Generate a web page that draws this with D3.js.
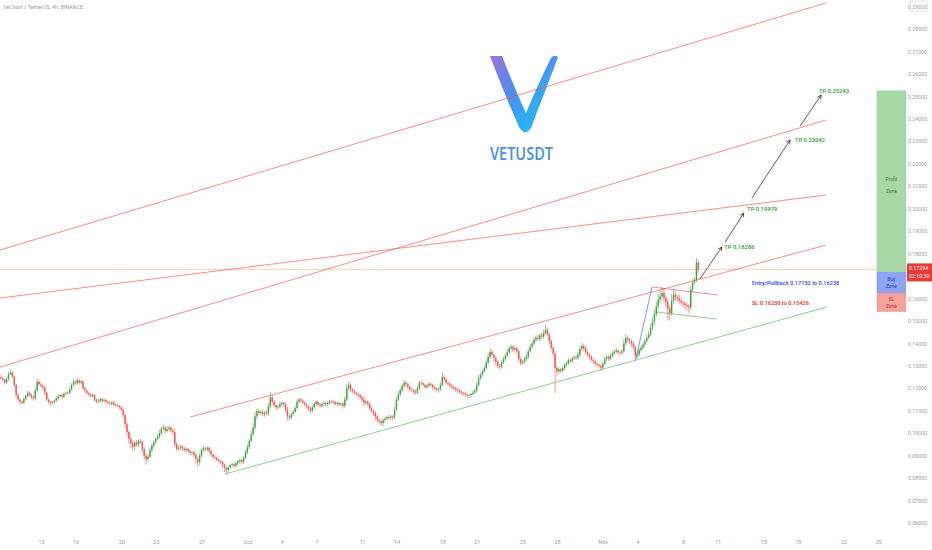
<!DOCTYPE html>
<html><head><meta charset="utf-8">
<script src="https://cdn.jsdelivr.net/npm/d3@7"></script>
<style>html,body{margin:0;padding:0;background:#fff;}svg{display:block;font-family:Roboto,"DejaVu Sans",sans-serif;}</style>
</head><body><svg id="c" width="932" height="550"></svg>
<script>
const title = "VeChain / TetherUS, 4h, BINANCE";
const startTime = "2021-09-09T12:00:00Z"; // first 4h candle
const stepHours = 4;
const firstOpen = 0.1250;
const closes = [
0.1245,0.1238,0.1225,0.1240,0.1262,0.1270,0.1252,0.1215,0.1170,0.1150,0.1140,0.1135,0.1152,0.1165,0.1180,0.1172,0.1160,0.1155,0.1190,0.1228,
0.1218,0.1210,0.1203,0.1180,0.1150,0.1140,0.1134,0.1138,0.1145,0.1155,0.1165,0.1170,0.1162,0.1175,0.1180,0.1178,0.1195,0.1215,0.1228,0.1222,
0.1235,0.1225,0.1230,0.1200,0.1190,0.1178,0.1172,0.1165,0.1170,0.1150,0.1140,0.1143,0.1152,0.1145,0.1148,0.1140,0.1135,0.1132,0.1138,0.1128,
0.1125,0.1122,0.1115,0.1105,0.1080,0.1040,0.1005,0.0975,0.0955,0.0940,0.0958,0.0950,0.0965,0.0960,0.0930,0.0900,0.0885,0.0895,0.0925,0.0945,
0.0960,0.0975,0.0985,0.1000,0.1020,0.1025,0.1010,0.1018,0.1025,0.1012,0.1005,0.0950,0.0930,0.0935,0.0940,0.0932,0.0925,0.0930,0.0920,0.0912,
0.0915,0.0905,0.0885,0.0870,0.0900,0.0925,0.0932,0.0928,0.0935,0.0920,0.0905,0.0895,0.0890,0.0882,0.0876,0.0872,0.0860,0.0845,0.0836,0.0848,
0.0858,0.0862,0.0855,0.0866,0.0875,0.0880,0.0872,0.0890,0.0915,0.0938,0.0965,0.0995,0.1025,0.1075,0.1098,0.1090,0.1095,0.1085,0.1092,0.1088,
0.1120,0.1160,0.1140,0.1125,0.1115,0.1118,0.1130,0.1135,0.1128,0.1105,0.1075,0.1070,0.1085,0.1095,0.1112,0.1140,0.1150,0.1145,0.1135,0.1128,
0.1118,0.1110,0.1100,0.1115,0.1130,0.1140,0.1128,0.1122,0.1130,0.1135,0.1128,0.1135,0.1142,0.1140,0.1138,0.1130,0.1135,0.1128,0.1132,0.1122,
0.1150,0.1200,0.1215,0.1195,0.1188,0.1180,0.1175,0.1170,0.1160,0.1150,0.1135,0.1140,0.1130,0.1110,0.1100,0.1090,0.1075,0.1060,0.1052,0.1045,
0.1058,0.1065,0.1072,0.1068,0.1075,0.1070,0.1105,0.1150,0.1172,0.1192,0.1210,0.1225,0.1218,0.1205,0.1195,0.1192,0.1185,0.1180,0.1200,0.1225,
0.1222,0.1215,0.1205,0.1212,0.1220,0.1215,0.1205,0.1200,0.1192,0.1195,0.1215,0.1250,0.1240,0.1225,0.1220,0.1212,0.1205,0.1200,0.1195,0.1192,
0.1185,0.1180,0.1178,0.1172,0.1168,0.1170,0.1175,0.1180,0.1190,0.1215,0.1245,0.1260,0.1275,0.1290,0.1315,0.1340,0.1362,0.1350,0.1335,0.1318,
0.1300,0.1295,0.1315,0.1330,0.1345,0.1360,0.1378,0.1385,0.1372,0.1378,0.1365,0.1330,0.1312,0.1318,0.1330,0.1340,0.1365,0.1385,0.1400,0.1415,
0.1425,0.1420,0.1435,0.1430,0.1445,0.1460,0.1440,0.1410,0.1380,0.1355,0.1290,0.1275,0.1285,0.1278,0.1290,0.1305,0.1312,0.1325,0.1320,0.1332,
0.1338,0.1335,0.1350,0.1375,0.1388,0.1378,0.1362,0.1350,0.1340,0.1328,0.1320,0.1310,0.1305,0.1300,0.1292,0.1310,0.1330,0.1340,0.1332,0.1345,
0.1355,0.1362,0.1368,0.1360,0.1358,0.1365,0.1400,0.1425,0.1418,0.1410,0.1400,0.1385,0.1345,0.1350,0.1370,0.1380,0.1395,0.1410,0.1425,0.1440,
0.1470,0.1495,0.1530,0.1565,0.1595,0.1610,0.1625,0.1600,0.1585,0.1555,0.1535,0.1590,0.1618,0.1605,0.1600,0.1590,0.1582,0.1578,0.1570,0.1565,
0.1560,0.1640,0.1672,0.1680,0.1760,0.17294];
// wick extensions in units of 0.0001
const wickUp = [
8,6,5,10,12,14,6,5,4,8,6,5,9,7,10,6,5,8,12,15,
10,8,6,5,4,6,5,7,6,9,8,5,7,6,5,10,12,9,14,8,
12,6,10,5,6,4,7,5,8,4,6,9,7,5,8,6,5,7,4,6,
5,6,4,7,5,6,12,8,10,14,9,12,8,10,6,8,12,10,9,7,
10,8,12,15,10,14,8,12,10,6,8,16,10,12,8,6,9,7,6,8,
5,7,6,10,12,8,10,7,6,5,6,4,7,5,4,6,5,4,8,7,
6,8,5,9,7,6,5,8,10,12,10,15,18,20,12,10,8,9,7,10,
14,22,10,8,6,7,9,8,6,10,12,6,5,8,10,12,9,6,7,5,
6,5,8,7,9,6,5,7,8,6,5,8,7,5,6,5,7,6,4,6,
15,20,14,8,6,7,5,6,5,8,10,6,5,7,6,5,8,6,5,7,
6,8,5,10,6,5,12,10,14,8,10,12,9,7,6,8,5,10,12,9,
8,6,7,9,10,6,5,7,6,8,12,22,10,8,6,7,5,6,5,8,
5,6,4,7,5,6,5,8,10,12,14,10,9,12,14,16,18,10,8,7,
6,10,8,12,10,14,12,10,8,12,9,6,8,10,12,14,10,12,9,14,
10,12,9,14,16,20,12,8,10,8,12,10,8,6,10,9,7,10,8,9,
8,10,12,14,16,10,8,7,6,8,5,6,5,7,6,10,12,9,8,10,
12,10,14,8,6,10,18,16,10,8,7,10,8,9,10,12,10,12,14,15,
18,20,22,20,24,26,28,22,18,15,12,30,26,15,12,18,14,10,12,9,
10,18,15,14,20,12];
const wickDn = [
6,8,10,5,7,4,6,9,10,8,12,8,5,7,6,9,8,10,6,5,
7,6,10,12,8,10,12,6,5,8,5,6,9,7,6,5,4,8,6,7,
6,9,5,8,10,7,8,6,5,9,8,6,5,8,6,9,8,7,10,8,
7,6,10,8,12,18,20,24,22,18,14,10,12,8,15,18,25,12,8,10,
12,8,6,10,8,6,12,8,10,9,12,14,10,8,12,10,9,12,10,14,
10,12,18,22,12,10,8,10,9,8,10,12,9,8,10,12,15,18,20,12,
10,8,12,8,9,10,12,8,6,9,10,8,6,10,12,8,10,9,12,8,
10,8,12,10,14,9,8,10,12,15,18,12,10,8,6,8,9,10,8,9,
10,12,14,8,7,10,9,8,10,8,9,7,8,9,10,8,9,10,8,12,
9,8,10,12,8,9,10,8,10,12,14,10,12,10,12,14,16,12,10,14,
12,10,9,8,10,12,8,6,8,7,9,8,10,12,9,10,12,8,6,9,
10,8,9,7,8,10,12,9,10,12,8,6,10,9,8,10,12,9,10,12,
9,10,12,10,14,12,10,8,6,8,7,9,8,6,8,7,10,12,14,16,
12,10,8,7,9,8,7,9,12,8,12,16,12,8,10,8,7,6,8,7,
9,8,10,7,8,6,10,15,12,14,110,20,12,10,8,9,10,8,9,8,
7,9,8,10,8,12,10,9,12,10,12,10,9,12,14,10,8,9,10,8,
9,10,8,10,12,9,8,10,12,14,16,18,25,12,10,9,8,10,8,9,
10,12,14,10,12,15,18,20,25,50,35,12,14,18,15,16,14,15,18,20,
25,14,12,10,8,15];

// 0.17 is hidden behind the last-price tag in the reference
const yTicks = [0.06,0.07,0.08,0.09,0.10,0.11,0.12,0.13,0.14,0.15,0.16,0.18,0.19,0.20,0.21,0.22,0.23,0.24,0.25,0.26,0.27,0.28,0.29];
const xTickDates = ["2021-09-13","2021-09-16","2021-09-20","2021-09-23","2021-09-27","2021-10-01","2021-10-04","2021-10-07","2021-10-11","2021-10-14","2021-10-18","2021-10-21","2021-10-25","2021-10-28","2021-11-01","2021-11-04","2021-11-08","2021-11-11","2021-11-15","2021-11-18","2021-11-22","2021-11-25"];
const xTickLabels = ["13","16","20","23","27","Oct","4","7","11","14","18","21","25","28","Nov","4","8","11","15","18","22","25"];
const lastPrice = 0.17294;
const countdown = "02:10:30";

// drawings: [time, price] endpoints
const redLines = [
  [["2021-09-09T10:00Z",0.18156],["2021-11-20T11:00Z",0.29158]],
  [["2021-09-09T10:00Z",0.16018],["2021-11-20T11:00Z",0.20606]],
  [["2021-09-09T10:00Z",0.12944],["2021-11-20T11:00Z",0.23947]],
  [["2021-09-26T00:00Z",0.10717],["2021-11-20T11:00Z",0.18379]],
  [["2021-11-05T07:00Z",0.16508],["2021-11-11T01:00Z",0.16152]]
];
const greenLines = [
  [["2021-09-29T01:00Z",0.08178],["2021-11-20T13:00Z",0.15617]],
  [["2021-11-05T17:00Z",0.15394],["2021-11-10T23:00Z",0.15082]]
];
const blueLines = [
  [["2021-11-03T21:00Z",0.13301],["2021-11-05T07:00Z",0.16508]]
];
const arrows = [
  [["2021-11-09T11:00Z",0.16864],["2021-11-11T09:00Z",0.18289]],
  [["2021-11-11T16:00Z",0.18512],["2021-11-13T07:00Z",0.19804]],
  [["2021-11-14T00:00Z",0.20472],["2021-11-17T08:00Z",0.23055]],
  [["2021-11-18T05:00Z",0.23679],["2021-11-20T01:00Z",0.25060]]
];
const tpLabels = [
  ["2021-11-11T14:00Z",0.18286,"TP 0.18286"],
  ["2021-11-13T14:00Z",0.19979,"TP 0.19979"],
  ["2021-11-17T18:00Z",0.23042,"TP 0.23042"],
  ["2021-11-19T20:00Z",0.25243,"TP 0.25243"]
];
const notes = [
  ["2021-11-14T00:00Z",0.16677,"Entry/Pullback 0.17152 to 0.16238","#3c4fe0"],
  ["2021-11-14T00:00Z",0.15786,"SL 0.16238 to 0.15426","#e53935"]
];
const zoneTimes = ["2021-11-24T22:00Z","2021-11-27T10:00Z"];
const zones = [
  {top:0.25243,bottom:0.17152,fill:"#a7d8a8",stroke:"#8fcb91",text:["Profit","Zone"],color:"#2e7d32"},
  {top:0.17152,bottom:0.16238,fill:"#8ea4f4",stroke:"#7b93ee",text:["Buy","Zone"],color:"#2a3cc8"},
  {top:0.16238,bottom:0.15426,fill:"#f4a39d",stroke:"#ee8e88",text:["SL","Zone"],color:"#c62828"}
];

const svg = d3.select("#c");
const x = d3.scaleUtc().domain([new Date("2021-09-13T00:00:00Z"), new Date("2021-11-25T00:00:00Z")]).range([41, 878]);
const y = d3.scaleLinear().domain([0.06, 0.28]).range([523, 29]);
const P = p => [x(new Date(p[0])), y(p[1])];

// defs
const defs = svg.append("defs");
const g = defs.append("linearGradient").attr("id","vg").attr("gradientUnits","userSpaceOnUse")
  .attr("x1",490).attr("y1",56).attr("x2",556).attr("y2",120);
g.append("stop").attr("offset",0).attr("stop-color","#9b70de");
g.append("stop").attr("offset",0.45).attr("stop-color","#4b8ff0");
g.append("stop").attr("offset",1).attr("stop-color","#1cc3f6");
defs.append("marker").attr("id","ah").attr("viewBox","0 0 8 8").attr("refX",7).attr("refY",4)
  .attr("markerWidth",5).attr("markerHeight",5).attr("markerUnits","userSpaceOnUse").attr("orient","auto")
  .append("path").attr("d","M1,1 L7,4 L1,7").attr("fill","none").attr("stroke","#333").attr("stroke-width",1.2);

// logo
svg.append("path")
  .attr("d","M490,56 L502,56 C510,76 518,96 526,113 C534,94 543,74 551,58 Q554,54 558,57 C549,82 539,106 532,126 Q526,138 519,127 C509,104 499,80 490,56 Z")
  .attr("fill","url(#vg)");
svg.append("text").attr("x",490).attr("y",160).attr("textLength",63).attr("lengthAdjust","spacingAndGlyphs")
  .attr("font-family","'Open Sans',sans-serif").attr("font-weight",600).attr("font-size",17.5)
  .attr("fill","#3f8fe2").text("VETUSDT");

// title
svg.append("text").attr("x",3).attr("y",9).attr("font-size",5.4).attr("fill","#9a9a9a").text(title);

// price line
svg.append("line").attr("x1",0).attr("x2",907).attr("y1",y(lastPrice)).attr("y2",y(lastPrice))
  .attr("stroke","#f6b98c").attr("stroke-width",0.8).attr("opacity",0.8);

// drawings
const lineGen = d3.line().x(d=>P(d)[0]).y(d=>P(d)[1]);
svg.append("g").selectAll("path").data(redLines).join("path").attr("d",lineGen)
  .attr("stroke","#ef5350").attr("stroke-width",0.9).attr("fill","none").attr("opacity",0.75);
svg.append("g").selectAll("path").data(greenLines).join("path").attr("d",lineGen)
  .attr("stroke","#4caf50").attr("stroke-width",0.9).attr("fill","none").attr("opacity",0.7);
svg.append("g").selectAll("path").data(blueLines).join("path").attr("d",lineGen)
  .attr("stroke","#5b6ff2").attr("stroke-width",0.9).attr("fill","none").attr("opacity",0.85);

// candles
const t0 = new Date(startTime).getTime();
const candles = closes.map((c,i)=>{
  const o = i===0 ? firstOpen : closes[i-1];
  return {t:new Date(t0 + i*stepHours*3600e3), o, c,
    h: Math.max(o,c) + wickUp[i]*1e-4, l: Math.min(o,c) - wickDn[i]*1e-4};
});
const cg = svg.append("g");
cg.selectAll("line").data(candles).join("line")
  .attr("x1",d=>x(d.t)).attr("x2",d=>x(d.t)).attr("y1",d=>y(d.h)).attr("y2",d=>y(d.l))
  .attr("stroke",d=>d.c>=d.o?"#43a047":"#ef5350").attr("stroke-width",0.6);
cg.selectAll("rect").data(candles).join("rect")
  .attr("x",d=>x(d.t)-0.7).attr("width",1.4)
  .attr("y",d=>y(Math.max(d.o,d.c))).attr("height",d=>Math.max(0.6,Math.abs(y(d.o)-y(d.c))))
  .attr("fill",d=>d.c>=d.o?"#43a047":"#ef5350");

// arrows
svg.append("g").selectAll("path").data(arrows).join("path").attr("d",lineGen)
  .attr("stroke","#333").attr("stroke-width",0.8).attr("fill","none").attr("marker-end","url(#ah)");

// TP labels
svg.append("g").selectAll("text").data(tpLabels).join("text")
  .attr("x",d=>x(new Date(d[0]))).attr("y",d=>y(d[1])+2)
  .attr("font-size",5.8).attr("font-weight",600).attr("fill","#43a047").text(d=>d[2]);
svg.append("g").selectAll("text").data(notes).join("text")
  .attr("x",d=>x(new Date(d[0]))).attr("y",d=>y(d[1])+2)
  .attr("font-size",5.6).attr("font-weight",600).attr("fill",d=>d[3]).text(d=>d[2]);

// zones
const zx0 = x(new Date(zoneTimes[0])), zx1 = x(new Date(zoneTimes[1]));
const zg = svg.append("g");
zones.forEach((z,k)=>{
  zg.append("rect").attr("x",zx0).attr("width",zx1-zx0).attr("y",y(z.top)).attr("height",y(z.bottom)-y(z.top))
    .attr("fill",z.fill).attr("stroke",z.stroke).attr("stroke-width",0.6);
  const cy = k===0 ? y(0.2105) : (y(z.top)+y(z.bottom))/2;
  const gap = k===0 ? 12 : 7;
  z.text.forEach((t,j)=>{
    zg.append("text").attr("x",(zx0+zx1)/2).attr("y",cy+(j-0.5)*gap+2).attr("text-anchor","middle")
      .attr("font-size",4.8).attr("fill",z.color).text(t);
  });
});

// y axis
const ya = svg.append("g").attr("transform","translate(906,0)")
  .call(d3.axisRight(y).tickValues(yTicks).tickFormat(d3.format(".5f")).tickSize(0).tickPadding(2));
ya.select(".domain").remove();
ya.selectAll("text").attr("font-size",5.3).attr("fill","#9a9a9a").attr("font-family","Roboto,sans-serif");
svg.append("rect").attr("x",910).attr("y",1).attr("width",17).attr("height",10).attr("fill","none").attr("stroke","#cfcfcf").attr("stroke-width",0.6);

// last price tag
const ly = y(lastPrice);
svg.append("rect").attr("x",907).attr("y",ly-6).attr("width",25).attr("height",18).attr("fill","#e53935");
svg.append("text").attr("x",909).attr("y",ly+1).attr("font-size",5.3).attr("fill","#fff").text(d3.format(".5f")(lastPrice));
svg.append("text").attr("x",909).attr("y",ly+9).attr("font-size",5.3).attr("fill","#fff").text(countdown);

// x axis
const xa = svg.append("g").attr("transform","translate(0,538)")
  .call(d3.axisBottom(x).tickValues(xTickDates.map(d=>new Date(d+"T00:00:00Z"))).tickFormat((d,i)=>xTickLabels[i]).tickSize(0).tickPadding(2));
xa.select(".domain").remove();
xa.selectAll("text").attr("font-size",5.5).attr("fill","#9a9a9a").attr("font-family","Roboto,sans-serif");
</script></body></html>
